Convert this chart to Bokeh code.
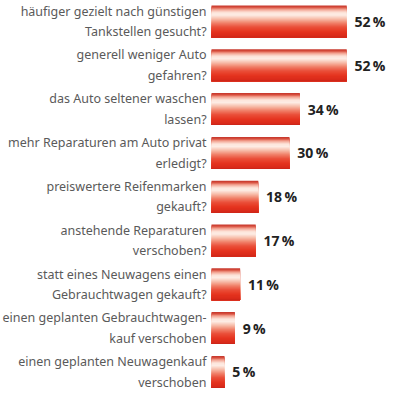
from bokeh.plotting import figure
from bokeh.models import Range1d, ColumnDataSource
from bokeh.core.properties import value
from bokeh.embed import file_html
from bokeh.resources import INLINE

label_line1 = [
    "häufiger gezielt nach günstigen",
    "generell weniger Auto",
    "das Auto seltener waschen",
    "mehr Reparaturen am Auto privat",
    "preiswertere Reifenmarken",
    "anstehende Reparaturen",
    "statt eines Neuwagens einen",
    "einen geplanten Gebrauchtwagen-",
    "einen geplanten Neuwagenkauf",
]
label_line2 = [
    "Tankstellen gesucht?",
    "gefahren?",
    "lassen?",
    "erledigt?",
    "gekauft?",
    "verschoben?",
    "Gebrauchtwagen gekauft?",
    "kauf verschoben",
    "verschoben",
]
values = [52, 52, 34, 30, 18, 17, 11, 9, 5]
value_labels = ["52\u2009%", "52\u2009%", "34\u2009%", "30\u2009%", "18\u2009%",
                "17\u2009%", "11\u2009%", "9\u2009%", "5\u2009%"]

# colour stops of the bar shading (fraction from top of bar, colour)
stops = [
    (0.00, "#c4342a"), (0.06, "#d9503f"), (0.12, "#f2a08e"), (0.22, "#fde6dc"),
    (0.30, "#fdece4"), (0.42, "#f7bca9"), (0.55, "#f08068"), (0.68, "#ea4e38"),
    (0.82, "#e5341f"), (0.95, "#d92a1a"), (1.00, "#c82418"),
]


def hex2rgb(h):
    return tuple(int(h[k:k + 2], 16) for k in (1, 3, 5))


def colour_at(f):
    for (a, ca), (b, cb) in zip(stops[:-1], stops[1:]):
        if a <= f <= b:
            t = 0 if b == a else (f - a) / (b - a)
            r1, g1, b1 = hex2rgb(ca)
            r2, g2, b2 = hex2rgb(cb)
            return "#%02x%02x%02x" % (round(r1 + (r2 - r1) * t),
                                      round(g1 + (g2 - g1) * t),
                                      round(b1 + (b2 - b1) * t))
    return stops[-1][1]


idx = list(range(len(values)))
bar_h = 0.73
n_strips = 32

p = figure(width=389, height=392, output_backend="svg", toolbar_location=None,
           x_range=Range1d(-81.15, 68.46), y_range=Range1d(8.470, -0.479),
           min_border=0)
p.axis.visible = False
p.grid.visible = False
p.outline_line_color = None
p.background_fill_color = "white"

for k in range(n_strips):
    f0 = k / n_strips
    c = colour_at((k + 0.5) / n_strips)
    hgt = (1 - f0) * bar_h
    ys = [i - bar_h / 2 + f0 * bar_h + hgt / 2 for i in idx]
    p.hbar(y=ys, left=0, right=values, height=hgt,
           fill_color=c, line_color=None)

off = 0.235
src = ColumnDataSource(dict(y1=[i - off for i in idx], y2=[i + off for i in idx],
                            y=idx, l1=label_line1, l2=label_line2,
                            vl=value_labels, vx=[v + 3.0 for v in values]))
for col, ycol in (("l1", "y1"), ("l2", "y2")):
    p.text(x=-1.9, y=ycol, text=col, source=src, text_align="right",
           text_baseline="middle", text_font=value("Noto Sans"),
           text_font_size="12.5px", text_color="#5a5a5a")
p.text(x="vx", y="y", text="vl", source=src, text_align="left",
       text_baseline="middle", text_font=value("Open Sans"),
       text_font_size="14px", text_font_style="bold", text_color="#222222")

open("out.html", "w").write(file_html(p, INLINE))
